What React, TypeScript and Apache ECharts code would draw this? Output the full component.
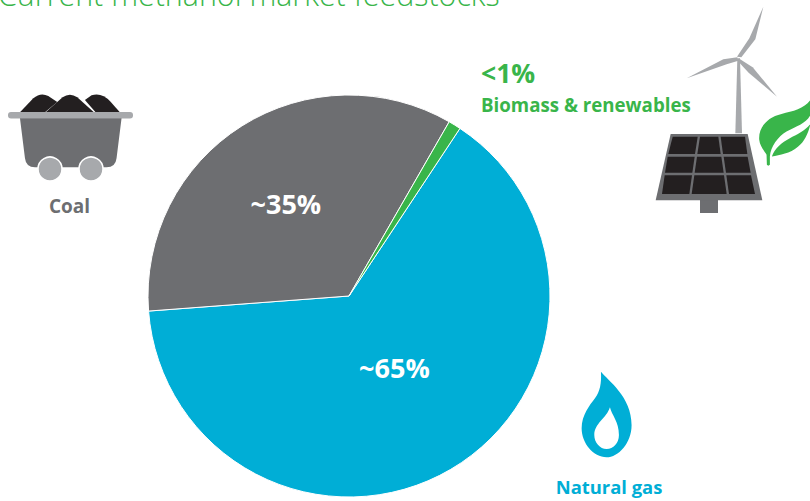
import React, { useEffect, useRef } from "react";
import * as echarts from "echarts";

const feedstocks = ["Natural gas", "Coal", "Biomass & renewables"];
const shares = [64.5, 34.5, 1];
const shareLabels = ["~65%", "~35%", ""];
const sliceColors = ["#00aed6", "#6d6e71", "#39b54a"];
const labelShifts = [[-7, -18], [-8, -5], [0, 0]];
const titleText = "Current methanol market feedstocks";

const BLUE = "#00aed6";
const GREEN = "#39b54a";
const GREY = "#6d6e71";
const LIGHT = "#a7a9ac";
const BLACK = "#231f20";
const FONT = '"Open Sans", sans-serif';

echarts.graphic.registerShape("dropOuter", echarts.graphic.extendPath(
  "M153 35 C175 62 245 110 245 195 C245 250 205 292 170 292 C130 292 95 250 95 205 C95 165 120 135 135 115 C150 95 155 70 153 35 Z", {}));
echarts.graphic.registerShape("dropInner", echarts.graphic.extendPath(
  "M180 142 C185 165 207 185 207 225 C207 250 190 267 170 267 C150 267 133 248 133 225 C133 190 170 175 180 142 Z", {}));
echarts.graphic.registerShape("leafTop", echarts.graphic.extendPath(
  "M482 300 C465 325 430 335 395 342 C350 352 325 385 328 420 C330 440 345 455 350 465 L351 495 Q355 500 360 495 L360 470 C362 440 385 410 410 395 C440 380 470 370 482 345 Z", {}));
echarts.graphic.registerShape("leafLow", echarts.graphic.extendPath(
  "M482 372 C470 390 440 405 420 415 C395 428 375 445 366 470 C390 465 420 462 445 440 C465 425 475 400 482 372 Z", {}));
echarts.graphic.registerShape("bin", echarts.graphic.extendPath(
  "M60 115 L365 115 L350 235 Q347 262 320 262 L105 262 Q78 262 75 235 Z", {}));
echarts.graphic.registerShape("pileL", echarts.graphic.extendPath(
  "M60 97 L100 55 Q122 36 145 48 L172 66 L135 97 Z", {}));
echarts.graphic.registerShape("pileR", echarts.graphic.extendPath(
  "M360 97 L332 65 Q305 36 275 46 L255 60 L287 97 Z", {}));
echarts.graphic.registerShape("pileM", echarts.graphic.extendPath(
  "M137 97 L188 52 Q210 36 232 52 L282 97 Z", {}));

const poly = (points: number[][], fill: string, extra: any = {}) => ({
  type: "polygon",
  shape: { points: points.map(([x, y]) => [650 + x / 3, y / 3]) },
  style: { fill, ...extra },
  silent: true,
});

const cells = [
  [[68, 410], [143, 410], [135, 462], [55, 462]],
  [[150, 410], [205, 410], [212, 462], [142, 462]],
  [[212, 410], [285, 410], [292, 462], [219, 462]],
  [[53, 470], [134, 470], [127, 518], [45, 518]],
  [[141, 470], [214, 470], [221, 518], [134, 518]],
  [[221, 470], [293, 470], [302, 518], [228, 518]],
  [[44, 526], [126, 526], [118, 582], [36, 582]],
  [[133, 526], [222, 526], [230, 582], [125, 582]],
  [[229, 526], [303, 526], [315, 582], [237, 582]],
];

const text = (x: number, y: number, t: string, fill: string, fontSize: number, textAlign = "left") => ({
  type: "text",
  x,
  y,
  silent: true,
  style: { text: t, fill, fontSize, fontWeight: 700, fontFamily: FONT, textAlign, textVerticalAlign: "middle" },
});

const scaled = (type: string, x: number, y: number, fill: string) => ({
  type, x, y, scaleX: 1 / 3, scaleY: 1 / 3, silent: true, style: { fill },
});

export default function App() {
  const ref = useRef<HTMLDivElement>(null);
  useEffect(() => {
    document.body.style.margin = "0";
    const chart = echarts.init(ref.current!, null, { renderer: "svg" });
    chart.setOption({
      animation: false,
      backgroundColor: "#ffffff",
      title: {
        text: titleText,
        left: -7,
        top: -26,
        textStyle: { color: GREEN, fontSize: 30.4, fontWeight: 300, fontFamily: FONT },
      },
      series: [
        {
          type: "pie",
          center: [349, 296],
          radius: [0, 201],
          startAngle: 56.5,
          clockwise: true,
          silent: true,
          itemStyle: { borderColor: "#ffffff", borderWidth: 1 },
          labelLine: { show: false },
          label: {
            position: "inside",
            color: "#ffffff",
            fontFamily: FONT,
            fontWeight: 700,
            fontSize: 27,
            formatter: (p: any) => shareLabels[p.dataIndex],
          },
          labelLayout: (p: any) => ({ dx: labelShifts[p.dataIndex][0], dy: labelShifts[p.dataIndex][1] }),
          data: feedstocks.map((name, i) => ({
            name,
            value: shares[i],
            itemStyle: { color: sliceColors[i] },
          })),
        },
      ],
      graphic: [
        // coal cart
        scaled("pileL", 0, 80, BLACK),
        scaled("pileR", 0, 80, BLACK),
        scaled("pileM", 0, 80, BLACK),
        { type: "rect", silent: true, shape: { x: 8, y: 112, width: 125, height: 6.5, r: 3 }, style: { fill: LIGHT } },
        scaled("bin", 0, 80, GREY),
        { type: "circle", silent: true, shape: { cx: 50, cy: 169, r: 12 }, style: { fill: LIGHT, stroke: "#fff", lineWidth: 1.5 } },
        { type: "circle", silent: true, shape: { cx: 91, cy: 169, r: 12 }, style: { fill: LIGHT, stroke: "#fff", lineWidth: 1.5 } },
        text(69.5, 206, "Coal", GREY, 19, "center"),
        // labels
        text(481, 73, "<1%", GREEN, 26.5),
        text(481, 104, "Biomass & renewables", GREEN, 18.7),
        text(609, 486, "Natural gas", BLUE, 18.4, "center"),
        // wind turbine
        poly([[256, 400], [262, 175], [270, 175], [276, 400]], LIGHT),
        poly([[261, 170], [298, 115], [340, 20], [316, 118], [274, 172]], LIGHT),
        poly([[262, 172], [220, 178], [110, 235], [230, 193], [265, 182]], LIGHT),
        poly([[268, 176], [308, 202], [381, 290], [296, 218], [264, 184]], LIGHT),
        // solar panel
        poly([[150, 598], [204, 598], [204, 639], [150, 639]], GREY),
        poly([[62, 402], [293, 402], [337, 601], [17, 601]], GREY),
        ...cells.map((c) => poly(c, BLACK)),
        // leaf
        scaled("leafTop", 650, 0, GREEN),
        scaled("leafLow", 650, 0, GREEN),
        // drop
        scaled("dropOuter", 550, 360, BLUE),
        scaled("dropInner", 550, 360, "#ffffff"),
      ],
    });
    return () => chart.dispose();
  }, []);
  return <div ref={ref} style={{ width: 810, height: 501 }} />;
}
